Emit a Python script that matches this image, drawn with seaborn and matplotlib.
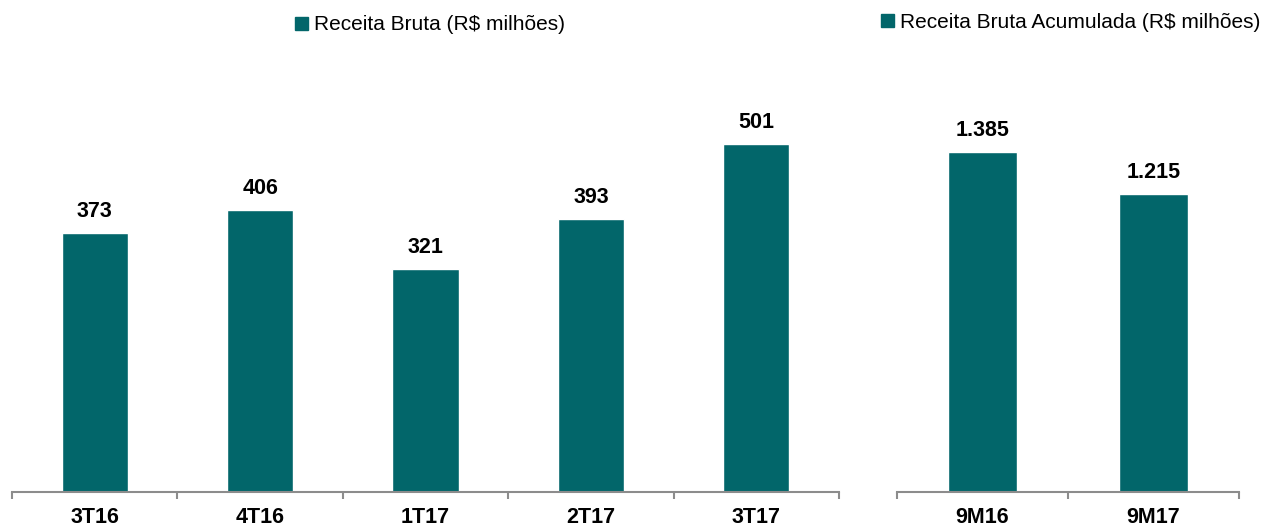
import matplotlib
matplotlib.use("Agg")
import matplotlib.pyplot as plt
from matplotlib.patches import Patch
from matplotlib.ticker import FixedLocator
import seaborn as sns

quarters = ["3T16", "4T16", "1T17", "2T17", "3T17"]
quarter_values = [373, 406, 321, 393, 501]
accum_periods = ["9M16", "9M17"]
accum_values = [1385, 1215]
legend_left = "Receita Bruta (R$ milhões)"
legend_right = "Receita Bruta Acumulada (R$ milhões)"

sns.set_theme(style="white")
plt.rcParams["font.family"] = ["Liberation Sans", "DejaVu Sans"]

TEAL = "#02666A"
GRAY = "#8C8C8C"

fig = plt.figure(figsize=(12.66, 5.26), dpi=100)
W, H = 1266, 526
base = 492
top = 60
ax1 = fig.add_axes([12 / W, (H - base) / H, 827 / W, (base - top) / H])
ax2 = fig.add_axes([897 / W, (H - base) / H, 342 / W, (base - top) / H])


def fmt(v):
    return f"{v:,}".replace(",", ".")


for ax, cats, vals, ymax in [(ax1, quarters, quarter_values, 622), (ax2, accum_periods, accum_values, 1760)]:
    sns.barplot(x=cats, y=vals, color=TEAL, width=0.4, saturation=1, ax=ax)
    ax.set_xlim(-0.5, len(cats) - 0.5)
    ax.set_ylim(0, ymax)
    ax.bar_label(ax.containers[0], labels=[fmt(v) for v in vals], padding=8,
                 fontsize=15.5, fontweight="bold", color="black")
    for s in ["top", "left", "right"]:
        ax.spines[s].set_visible(False)
    ax.spines["bottom"].set_color(GRAY)
    ax.spines["bottom"].set_linewidth(1.5)
    ax.set_yticks([])
    ax.set_xlabel("")
    ax.set_ylabel("")
    ax.xaxis.set_minor_locator(FixedLocator([i - 0.5 for i in range(len(cats) + 1)]))
    ax.tick_params(axis="x", which="minor", bottom=True, length=5, width=1.5, color=GRAY, direction="out")
    ax.tick_params(axis="x", which="major", bottom=True, length=0, pad=11)
    for lab in ax.get_xticklabels():
        lab.set_fontsize(15.5)
        lab.set_fontweight("bold")
        lab.set_color("black")

for label, cx, cy in [(legend_left, 430, 25), (legend_right, 1071, 22)]:
    leg = fig.legend(handles=[Patch(color=TEAL, label=label)], loc="center",
                     bbox_to_anchor=(cx / W, 1 - cy / H), frameon=False, fontsize=15,
                     handlelength=0.6, handleheight=0.6, handletextpad=0.3, borderpad=0)
    for t in leg.get_texts():
        t.set_color("black")

fig.savefig("out.png", dpi=100)
